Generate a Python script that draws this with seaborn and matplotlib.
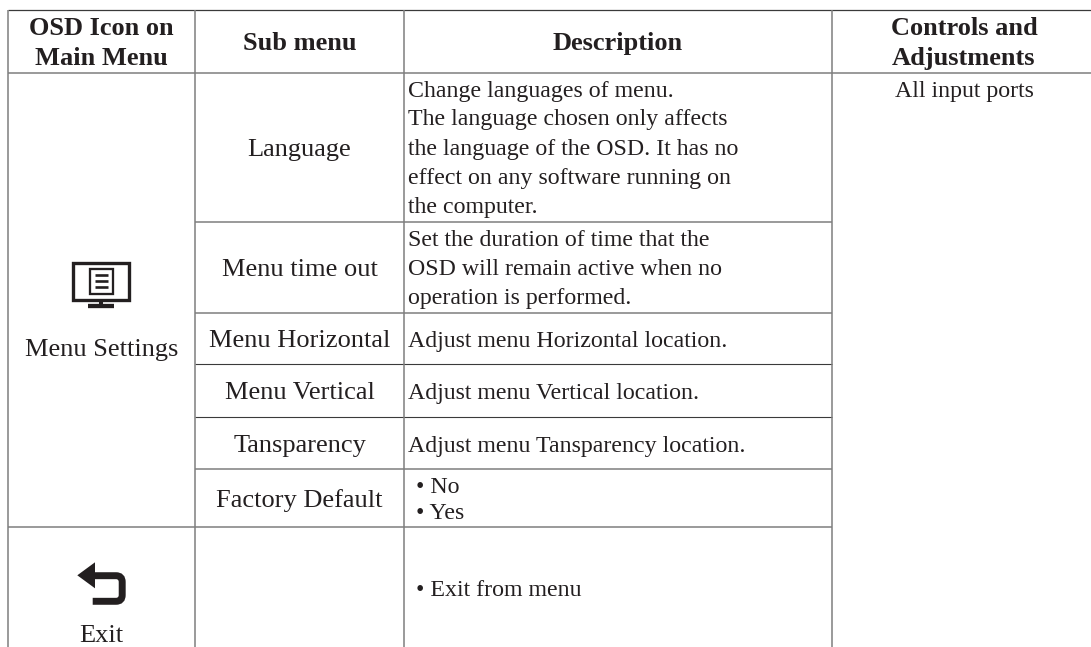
import matplotlib
matplotlib.use('Agg')
import matplotlib.pyplot as plt
import pandas as pd
import seaborn as sns
from matplotlib.patches import PathPatch, Polygon, Rectangle
from matplotlib.path import Path

# table content
header_main = ['OSD Icon on', 'Main Menu']
header_sub = 'Sub menu'
header_desc = 'Description'
header_ctrl = ['Controls and', 'Adjustments']
main_menu = ['Menu Settings', 'Exit']
sub_menu = ['Language', 'Menu time out', 'Menu Horizontal', 'Menu Vertical', 'Tansparency', 'Factory Default']
descriptions = [
    'Change languages of menu.',
    'The language chosen only affects',
    'the language of the OSD. It has no',
    'effect on any software running on',
    'the computer.',
    'Set the duration of time that the',
    'OSD will remain active when no',
    'operation is performed.',
    'Adjust menu Horizontal location.',
    'Adjust menu Vertical location.',
    'Adjust menu Tansparency location.',
    '• No',
    '• Yes',
    '• Exit from menu',
]
controls = 'All input ports'

# layout, in pixels of the 1091x647 picture
W, H = 1091, 647
COL_X = [7.7, 194.7, 404.3, 831.6]
COL_CENTER = [101.3, 299.5, 618, 964]
DESC_X = 408.5
BULLET_X = 416.5
SUB_Y = [156, 276, 346.7, 398.7, 451.7, 506.7]
DESC_Y = [97, 125.5, 155, 184, 213, 245.5, 275, 304, 346.7, 398.7, 451.7, 493.3, 519, 596]
TEXT = '#231f20'
GRAY = '#7f7f7f'
DARK = '#3a3a3a'

sns.set_theme(style='white')
plt.rcParams['font.family'] = ['Liberation Serif', 'DejaVu Serif']

fig, ax = plt.subplots(figsize=(W / 100, H / 100), dpi=100)
fig.subplots_adjust(0, 0, 1, 1)


def rule(x0, y0, x1, y1, color=GRAY, lw=1.1):
    df = pd.DataFrame({'x': [x0, x1], 'y': [y0, y1]})
    sns.lineplot(data=df, x='x', y='y', ax=ax, color=color, linewidth=lw,
                 estimator=None, sort=False, solid_capstyle='butt')


rule(COL_X[0], 9.5, W, 9.5, DARK, 0.9)
rule(COL_X[0], 72.5, W, 72.5)
for y in [221.5, 312.5, 468.5]:
    rule(COL_X[1], y, COL_X[3], y)
for y in [364, 416.5]:
    rule(COL_X[1], y, COL_X[3], y, DARK, 0.8)
rule(COL_X[0], 526.5, COL_X[3], 526.5)
for x in COL_X:
    rule(x, 9.5, x, H)

BODY = 19.0
DESC = 17.2
HEAD = 19.0


def label(x, y, s, size=BODY, ha='center', weight='normal'):
    ax.text(x, y, s, fontsize=size, ha=ha, va='baseline', color=TEXT, fontweight=weight)


label(COL_CENTER[0], 35, header_main[0], HEAD, weight='bold')
label(COL_CENTER[0], 65, header_main[1], HEAD, weight='bold')
label(COL_CENTER[1], 50, header_sub, HEAD, weight='bold')
label(COL_CENTER[2], 50, header_desc, HEAD, weight='bold')
label(COL_CENTER[3], 35, header_ctrl[0], HEAD, weight='bold')
label(COL_CENTER[3], 65, header_ctrl[1], HEAD, weight='bold')

label(COL_CENTER[0], 355.7, main_menu[0])
label(COL_CENTER[0], 641.5, main_menu[1])
for name, y in zip(sub_menu, SUB_Y):
    label(COL_CENTER[1], y, name)
for line, y in zip(descriptions, DESC_Y):
    label(BULLET_X if line.startswith('•') else DESC_X, y, line, DESC, ha='left')
label(COL_CENTER[3], 97, controls, DESC)

# monitor icon
ax.add_patch(Rectangle((72.7, 262.7), 56.6, 37.3, fc='none', ec=TEXT, lw=2.4))
ax.add_patch(Rectangle((89.5, 268.9), 23.4, 25, fc='none', ec=TEXT, lw=1.65))
for y in [275.3, 281.3, 287.3]:
    rule(95, y, 108.3, y, TEXT, 1.9)
rule(101.3, 301, 101.3, 304, TEXT, 2.9)
rule(88.3, 305.5, 114, 305.5, TEXT, 3.1)

# exit arrow icon
ax.add_patch(Polygon([(77.3, 575.3), (95, 562.3), (95, 588.3)], closed=True, fc=TEXT, ec='none'))
arrow = Path([(93, 575.7), (116, 575.7), (122.2, 575.7), (122.2, 582),
              (122.2, 595), (122.2, 601.3), (116, 601.3), (92.7, 601.3)],
             [Path.MOVETO, Path.LINETO, Path.CURVE3, Path.CURVE3,
              Path.LINETO, Path.CURVE3, Path.CURVE3, Path.LINETO])
ax.add_patch(PathPatch(arrow, fc='none', ec=TEXT, lw=5, capstyle='butt'))

ax.set_xlim(0, W)
ax.set_ylim(H, 0)
ax.set_axis_off()

plt.savefig('out.png', dpi=100)
plt.close(fig)
